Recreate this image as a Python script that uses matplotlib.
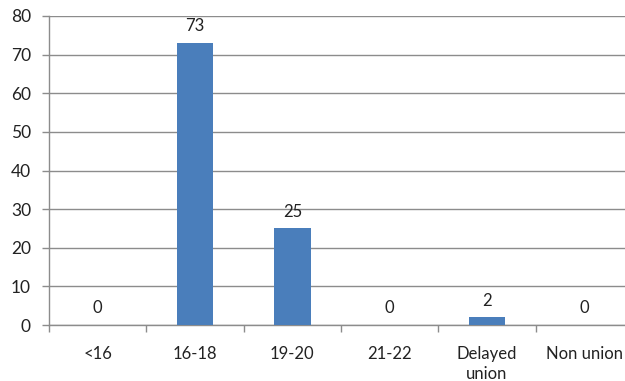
import matplotlib
matplotlib.use("Agg")
import matplotlib.pyplot as plt

categories = ["<16", "16-18", "19-20", "21-22", "Delayed\nunion", "Non union"]
values = [0, 73, 25, 0, 2, 0]
yticks = [0, 10, 20, 30, 40, 50, 60, 70, 80]

plt.rcParams['font.family'] = ['Lato', 'DejaVu Sans']

fig = plt.figure(figsize=(6.25, 3.81), dpi=100)
ax = fig.add_axes([49/625, 1-325/381, 584/625, 309/381])

x = list(range(len(categories)))
bars = ax.bar(x, values, width=0.38, color="#4a7ebb", zorder=3)
for xi, v in zip(x, values):
    ax.annotate(str(v), (xi, v), xytext=(0, 12), textcoords="offset points",
                ha="center", va="center", fontsize=12, color="#222222")

ax.set_xlim(-0.5, len(categories) - 0.5)
ax.set_ylim(0, 80)
ax.set_yticks(yticks)
ax.yaxis.grid(True, color="#8c8c8c", linewidth=1.0, zorder=0)
ax.set_axisbelow(True)

ax.set_xticks(x)
ax.set_xticklabels(categories, fontsize=12, color="#222222", linespacing=1.35)
ax.set_xticks([i + 0.5 for i in range(-1, len(categories))], minor=True)
ax.tick_params(axis="x", which="major", length=0, pad=15)
ax.tick_params(axis="x", which="minor", length=5, color="#8c8c8c", width=1)
ax.tick_params(axis="y", length=5, color="#8c8c8c", width=1, labelsize=12.5,
               labelcolor="#222222", pad=8)

for s in ["top", "right"]:
    ax.spines[s].set_visible(False)
for s in ["left", "bottom"]:
    ax.spines[s].set_color("#8c8c8c")
    ax.spines[s].set_linewidth(1.0)

fig.savefig("out.png", dpi=100)
